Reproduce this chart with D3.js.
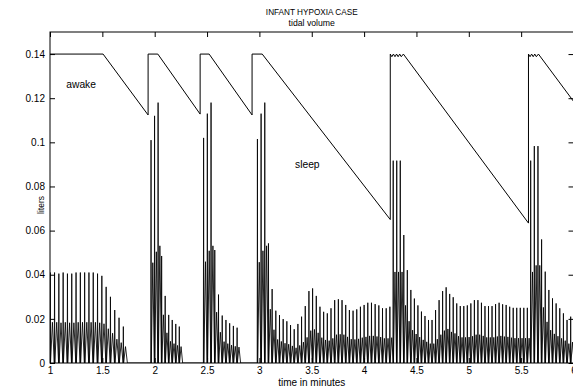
<!DOCTYPE html>
<html>
<head>
<meta charset="utf-8">
<script src="https://cdn.jsdelivr.net/npm/d3@7"></script>
<style>
  html, body { margin: 0; padding: 0; background: #fff; }
  svg { display: block; }
  text { font-family: "Liberation Sans", Arial, Helvetica, sans-serif; fill: #000; }
</style>
</head>
<body>
<svg id="chart" width="573" height="388"></svg>
<script>
// ---------- data ----------
const titleText = "INFANT HYPOXIA CASE";
const subtitleText = "tidal volume";
const xLabelText = "time in minutes";
const yLabelText = "liters";

const xTicks = [1, 1.5, 2, 2.5, 3, 3.5, 4, 4.5, 5, 5.5, 6];
const yTicks = [0, 0.02, 0.04, 0.06, 0.08, 0.1, 0.12, 0.14];

// upper line (breakpoints)
const driveTimes = [1.0, 1.507, 1.937, 1.937, 2.03, 2.434, 2.434, 2.52, 2.93, 2.93, 3.027, 4.25, 4.25,
  4.265, 4.28, 4.295, 4.31, 4.325, 4.34, 4.355, 4.375, 5.57, 5.57,
  5.585, 5.60, 5.615, 5.63, 5.645, 5.665, 6.0];
const driveValues = [0.14, 0.14, 0.1124, 0.14, 0.14, 0.1128, 0.14, 0.14, 0.1124, 0.14, 0.14, 0.065, 0.14,
  0.1388, 0.14, 0.1388, 0.14, 0.1388, 0.14, 0.1388, 0.14, 0.0634, 0.14,
  0.1388, 0.14, 0.1388, 0.14, 0.1388, 0.14, 0.1186];

// breathing episodes: first / last breath time and peak of each breath
const episodeStart = [1.0, 1.963, 2.465, 2.979, 4.276, 5.589];
const episodeEnd   = [1.698, 2.233, 2.785, 4.244, 5.557, 5.971];
const episode1Peaks = [0.041, 0.041, 0.0405, 0.041, 0.0405, 0.0405, 0.041, 0.041, 0.041, 0.041, 0.041, 0.0405,
  0.0395, 0.0345, 0.030, 0.024, 0.0205, 0.0165];
const episode2Peaks = [0.101, 0.112, 0.118, 0.0485, 0.0304, 0.0218, 0.0195, 0.0177, 0.0165];
const episode3Peaks = [0.102, 0.113, 0.118, 0.0512, 0.031, 0.0215, 0.0195, 0.018, 0.0168, 0.016];
const episode4Peaks = [0.1015, 0.113, 0.118, 0.0542, 0.0335, 0.0237, 0.0217, 0.0199, 0.0189, 0.0172, 0.0153,
  0.0177, 0.021, 0.0258, 0.0326, 0.0338, 0.0304, 0.0255, 0.0232, 0.0225, 0.0248, 0.0285, 0.0289, 0.0285,
  0.0263, 0.024, 0.0237, 0.0243, 0.0255, 0.0263, 0.0273, 0.0273, 0.0267, 0.0261, 0.0248, 0.0248, 0.0255];
const episode5Peaks = [0.0917, 0.0917, 0.0917, 0.058, 0.0421, 0.0331, 0.0292, 0.0261, 0.0233, 0.0213, 0.0195,
  0.0195, 0.024, 0.0285, 0.0326, 0.0343, 0.0313, 0.0298, 0.027, 0.0258, 0.0258, 0.0261, 0.027, 0.0285, 0.0285,
  0.0273, 0.0258, 0.0258, 0.0258, 0.0267, 0.0273, 0.0266, 0.0263, 0.0255, 0.025, 0.025, 0.025, 0.025, 0.025];
const episode6Peaks = [0.0917, 0.0983, 0.0983, 0.056, 0.0414, 0.0331, 0.0293, 0.027, 0.0248, 0.0225, 0.0195, 0.021];
const episodePeaks = [episode1Peaks, episode2Peaks, episode3Peaks, episode4Peaks, episode5Peaks, episode6Peaks];

const annotations = [
  { text: "awake", t: 1.155, v: 0.1245 },
  { text: "sleep", t: 3.34, v: 0.0885 }
];

// ---------- layout ----------
const margin = { left: 50, right: 573.5, top: 32, bottom: 363 };
const x = d3.scaleLinear().domain([1, 6]).range([margin.left, margin.right]);
const y = d3.scaleLinear().domain([0, 0.15]).range([margin.bottom, margin.top]);

const svg = d3.select("#chart");

svg.append("defs").append("clipPath").attr("id", "clip")
  .append("rect").attr("x", margin.left).attr("y", margin.top - 2)
  .attr("width", margin.right - margin.left).attr("height", margin.bottom - margin.top + 2);

// breathing waveform
const tidal = [[1.0, 0]];
episodePeaks.forEach((peaks, e) => {
  const n = peaks.length;
  const dt = (episodeEnd[e] - episodeStart[e]) / (n - 1);
  peaks.forEach((p, k) => {
    const t = episodeStart[e] + k * dt;
    tidal.push([t, 0], [t + 0.06 * dt, p], [t + 0.12 * dt, 0], [t + 0.56 * dt, 0.45 * p], [t + dt, 0]);
  });
});
tidal.push([6.0, 0]);

const line = d3.line().x(d => x(d[0])).y(d => y(d[1]));
const plotG = svg.append("g").attr("clip-path", "url(#clip)");
plotG.append("path").datum(tidal).attr("d", line)
  .attr("fill", "none").attr("stroke", "#000").attr("stroke-width", 0.85);

plotG.append("path").datum(driveTimes.map((t, i) => [t, driveValues[i]])).attr("d", line)
  .attr("fill", "none").attr("stroke", "#000").attr("stroke-width", 1);

// axes (MATLAB-style inward ticks on all four sides)
const tickLen = 5;
const axB = svg.append("g").attr("transform", `translate(0,${margin.bottom})`)
  .call(d3.axisBottom(x).tickValues(xTicks).tickSizeInner(-tickLen).tickSizeOuter(0).tickPadding(4).tickFormat(d3.format("")));
const axT = svg.append("g").attr("transform", `translate(0,${margin.top})`)
  .call(d3.axisTop(x).tickValues(xTicks).tickSizeInner(-tickLen).tickSizeOuter(0).tickFormat(""));
const axL = svg.append("g").attr("transform", `translate(${margin.left},0)`)
  .call(d3.axisLeft(y).tickValues(yTicks).tickSizeInner(-tickLen).tickSizeOuter(0).tickPadding(5).tickFormat(d3.format("")));
const axR = svg.append("g").attr("transform", `translate(${margin.right},0)`)
  .call(d3.axisRight(y).tickValues(yTicks).tickSizeInner(-tickLen).tickSizeOuter(0).tickFormat(""));

[axB, axT, axL, axR].forEach(a => {
  a.select(".domain").remove();
  a.selectAll("line").attr("stroke", "#000").attr("stroke-width", 1);
  a.selectAll("text").attr("font-size", 10).attr("font-family", '"Liberation Sans", Arial, sans-serif').attr("fill", "#000");
});

svg.append("rect").attr("x", margin.left).attr("y", margin.top)
  .attr("width", margin.right - margin.left).attr("height", margin.bottom - margin.top)
  .attr("fill", "none").attr("stroke", "#000").attr("stroke-width", 1);

// titles & labels
const cx = (margin.left + margin.right) / 2;
svg.append("text").attr("x", cx).attr("y", 15).attr("text-anchor", "middle").attr("font-size", 8.2).text(titleText);
svg.append("text").attr("x", cx).attr("y", 26).attr("text-anchor", "middle").attr("font-size", 8.7).text(subtitleText);
svg.append("text").attr("x", cx).attr("y", 386).attr("text-anchor", "middle").attr("font-size", 10).text(xLabelText);
svg.append("text").attr("transform", `translate(44,205) rotate(-90)`)
  .attr("text-anchor", "middle").attr("font-size", 8.5).text(yLabelText);

annotations.forEach(a => {
  svg.append("text").attr("x", x(a.t)).attr("y", y(a.v)).attr("font-size", 10.3).text(a.text);
});
</script>
</body>
</html>
